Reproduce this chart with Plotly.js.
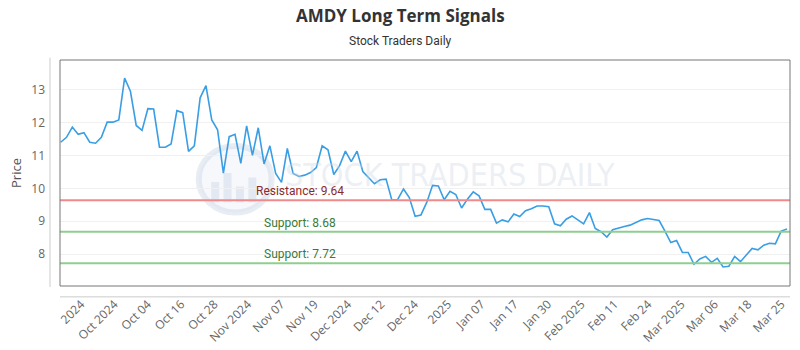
<!DOCTYPE html>
<html>
<head>
<meta charset="utf-8">
<script src="https://cdn.plot.ly/plotly-3.0.1.min.js"></script>
<style>html,body{margin:0;padding:0;background:#fff;}#chart{width:800px;height:350px;}</style>
</head>
<body>
<div id="chart"></div>
<script>
// Closing prices (one per trading session)
const prices = [
  11.40, 11.55, 11.86, 11.64, 11.69, 11.40, 11.37, 11.55, 12.01, 12.01,
  12.08, 13.35, 12.95, 11.91, 11.76, 12.42, 12.41, 11.25, 11.25, 11.35,
  12.36, 12.30, 11.12, 11.29, 12.75, 13.12, 12.08, 11.78, 10.46, 11.57,
  11.64, 10.76, 11.90, 11.00, 11.84, 10.74, 11.29, 10.45, 10.18, 11.21,
  10.45, 10.36, 10.40, 10.48, 10.63, 11.29, 11.17, 10.42, 10.69, 11.13,
  10.81, 11.13, 10.51, 10.34, 10.14, 10.26, 10.28, 9.64, 9.66, 9.98,
  9.72, 9.15, 9.19, 9.57, 10.09, 10.07, 9.65, 9.91, 9.81, 9.40,
  9.67, 9.89, 9.77, 9.36, 9.36, 8.94, 9.04, 8.98, 9.22, 9.14,
  9.32, 9.38, 9.46, 9.46, 9.44, 8.92, 8.86, 9.06, 9.16, 9.04,
  8.92, 9.26, 8.78, 8.68, 8.52, 8.74, 8.80, 8.84, 8.88, 8.96,
  9.04, 9.08, 9.06, 9.02, 8.70, 8.35, 8.41, 8.05, 8.05, 7.69,
  7.85, 7.93, 7.75, 7.87, 7.61, 7.63, 7.93, 7.77, 7.97, 8.17,
  8.13, 8.27, 8.33, 8.31, 8.70, 8.76
];
const tickLabels = ["2024","Oct 2024","Oct 04","Oct 16","Oct 28","Nov 2024","Nov 07","Nov 19",
  "Dec 2024","Dec 12","Dec 24","2025","Jan 07","Jan 17","Jan 30","Feb 2025","Feb 11","Feb 24",
  "Mar 2025","Mar 06","Mar 18","Mar 25"];
const levelNames = ["Resistance","Support","Support"];
const levelValues = [9.64, 8.68, 7.72];
const levelColors = ["#f08a8a","#8fce8f","#8fce8f"];
const levelTextColors = ["#8b2a2a","#3a7a3a","#3a7a3a"];

const xs = prices.map((_, i) => i);
const firstTick = 3.5, tickStep = 5.74;
const tickvals = tickLabels.map((_, i) => firstTick + i * tickStep);

const shapes = [];
const annotations = [];
// watermark logo
shapes.push({type:'circle', xref:'paper', yref:'paper', x0:0.19, x1:0.29, y0:0.325, y1:0.62,
  line:{color:'rgba(205,215,230,0.45)', width:6}, fillcolor:'rgba(228,234,243,0.35)', layer:'below'});
[[0.207,0.37,0.46],[0.224,0.37,0.50],[0.241,0.37,0.44],[0.258,0.37,0.48]].forEach(b=>{
  shapes.push({type:'rect', xref:'paper', yref:'paper', x0:b[0], x1:b[0]+0.011, y0:b[1], y1:b[2],
    line:{width:0}, fillcolor:'rgba(205,215,230,0.45)', layer:'below'});
});
annotations.push({xref:'paper', yref:'paper', x:0.305, y:0.49, xanchor:'left', yanchor:'middle',
  text:'STOCK TRADERS DAILY', showarrow:false,
  font:{family:'Liberation Sans Narrow, DejaVu Sans Condensed, sans-serif', size:32, color:'rgba(205,215,230,0.4)'}});

levelValues.forEach((v, i) => {
  shapes.push({type:'line', xref:'paper', yref:'y', x0:0, x1:1, y0:v, y1:v,
    line:{color:levelColors[i], width:2}});
  annotations.push({xref:'paper', yref:'y', x:0.329, y:v, yshift:9, xanchor:'center', yanchor:'middle',
    text: levelNames[i] + ': ' + v.toFixed(2), showarrow:false,
    font:{family:'Roboto, sans-serif', size:12, color:levelTextColors[i]}});
});
// titles (centered on the page)
annotations.push({xref:'paper', yref:'paper', x:0.4658, y:1.199, xanchor:'center', yanchor:'middle',
  text:'<b>AMDY Long Term Signals</b>', showarrow:false,
  font:{family:'Open Sans, sans-serif', size:17, color:'#333'}});
annotations.push({xref:'paper', yref:'paper', x:0.4658, y:1.084, xanchor:'center', yanchor:'middle',
  text:'Stock Traders Daily', showarrow:false,
  font:{family:'Roboto, sans-serif', size:12, color:'#333'}});
// plot frame
shapes.push({type:'rect', xref:'paper', yref:'paper', x0:0, x1:1, y0:0, y1:1,
  line:{color:'#777', width:1}, fillcolor:'rgba(0,0,0,0)'});
// offset axis lines
shapes.push({type:'line', xref:'paper', yref:'paper', x0:-0.0137, x1:-0.0137, y0:-0.005, y1:1.01,
  line:{color:'#ccc', width:1}});
shapes.push({type:'line', xref:'paper', yref:'paper', x0:0, x1:1, y0:-0.048, y1:-0.048,
  line:{color:'#ccc', width:1}});

const trace = {x: xs, y: prices, type:'scatter', mode:'lines',
  line:{color:'#3a9ee4', width:1.6}, hoverinfo:'skip'};

const layout = {
  width:800, height:350,
  margin:{l:60, r:10, t:60, b:64},
  paper_bgcolor:'#fff', plot_bgcolor:'#fff',
  showlegend:false,
  xaxis:{range:[-0.12, 125.52], tickvals:tickvals, ticktext:tickLabels, tickangle:-45,
    showgrid:false, zeroline:false, showline:false, ticks:'', ticklabelstandoff:8,
    tickfont:{family:'Open Sans, sans-serif', size:12, color:'#666'}, fixedrange:true},
  yaxis:{range:[7.03, 13.9], tickvals:[8,9,10,11,12,13], showgrid:true, gridcolor:'#f0f0f0',
    zeroline:false, showline:false, ticks:'', ticklabelstandoff:14,
    tickfont:{family:'Open Sans, sans-serif', size:12, color:'#666'},
    title:{text:'Price', standoff:6, font:{family:'Open Sans, sans-serif', size:13, color:'#555'}}},
  shapes:shapes, annotations:annotations
};
Plotly.newPlot('chart', [trace], layout, {displayModeBar:false, staticPlot:true});
</script>
</body>
</html>
